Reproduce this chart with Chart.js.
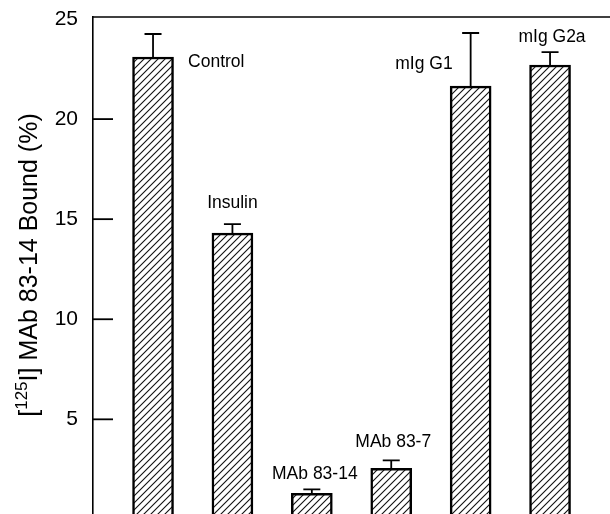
<!DOCTYPE html>
<html>
<head>
<meta charset="utf-8">
<script src="https://cdn.jsdelivr.net/npm/chart.js@4"></script>
<style>
  html, body { margin: 0; padding: 0; background: #fff; }
  #wrap { width: 610px; height: 514px; }
</style>
</head>
<body>
<div id="wrap"><canvas id="chartBound"></canvas></div>
<script>
// treatments, mean % bound and upper error (mean + SD)
const treatments = ["Control", "Insulin", "MAb 83-14", "MAb 83-7", "mIg G1", "mIg G2a"];
const boundPct = [23.1, 14.3, 1.3, 2.55, 21.65, 22.7];
const errTop = [24.25, 14.75, 1.5, 2.95, 24.3, 23.35];
const yTicks = [5, 10, 15, 20, 25];

const FONT = "'Liberation Sans', Arial, Helvetica, sans-serif";

// diagonal hatch fill for the bars
function hatchPattern(ctx) {
    const size = 7;
    const c = document.createElement("canvas");
    c.width = size;
    c.height = size;
    const p = c.getContext("2d");
    p.fillStyle = "#fff";
    p.fillRect(0, 0, size, size);
    p.strokeStyle = "#111";
    p.lineWidth = 1.1;
    p.beginPath();
    p.moveTo(-1, size + 1);
    p.lineTo(size + 1, -1);
    p.moveTo(-1, 1);
    p.lineTo(1, -1);
    p.moveTo(size - 1, size + 1);
    p.lineTo(size + 1, size - 1);
    p.stroke();
    return ctx.createPattern(c, "repeat");
}

// error bars, inward ticks, top border, bar labels and the axis title
const decorPlugin = {
    id: "decorPlugin",
    afterDatasetsDraw: (chart) => {
        const ctx = chart.ctx;
        const x = chart.scales.x;
        const y = chart.scales.y;
        const area = chart.chartArea;
        ctx.save();
        ctx.strokeStyle = "#000";

        // upper error bars
        ctx.lineWidth = 1.8;
        errTop.forEach((e, i) => {
            const px = x.getPixelForValue(i);
            const top = y.getPixelForValue(e);
            const base = y.getPixelForValue(boundPct[i]);
            ctx.beginPath();
            ctx.moveTo(px, base);
            ctx.lineTo(px, top);
            ctx.moveTo(px - 8.5, top);
            ctx.lineTo(px + 8.5, top);
            ctx.stroke();
        });

        // top frame line
        ctx.lineWidth = 1.6;
        ctx.beginPath();
        ctx.moveTo(area.left, area.top);
        ctx.lineTo(area.right, area.top);
        ctx.stroke();

        // inward tick marks
        ctx.lineWidth = 1.8;
        yTicks.forEach((v) => {
            if (v >= 25) return;
            const py = y.getPixelForValue(v);
            ctx.beginPath();
            ctx.moveTo(area.left, py);
            ctx.lineTo(area.left + 20, py);
            ctx.stroke();
        });

        // bar labels
        ctx.fillStyle = "#000";
        ctx.font = "17.5px " + FONT;
        ctx.textBaseline = "middle";
        const lbl = (i, dx, ty, align) => {
            ctx.textAlign = align;
            ctx.fillText(treatments[i], x.getPixelForValue(i) + dx, ty);
        };
        lbl(0, 35, y.getPixelForValue(boundPct[0]) + 5, "left");
        lbl(1, 0, y.getPixelForValue(errTop[1]) - 21, "center");
        lbl(2, 3, y.getPixelForValue(errTop[2]) - 15, "center");
        lbl(3, 2, y.getPixelForValue(errTop[3]) - 18, "center");
        lbl(4, -18, y.getPixelForValue(errTop[4]) + 31, "right");
        lbl(5, 2, y.getPixelForValue(errTop[5]) - 15, "center");

        // y axis title with superscript
        ctx.translate(29, 265);
        ctx.rotate(-Math.PI / 2);
        ctx.textAlign = "left";
        ctx.textBaseline = "alphabetic";
        const big = "25px " + FONT;
        const small = "17px " + FONT;
        const parts = [
            ["[", big, 0],
            ["125", small, -10],
            ["I] MAb 83-14 Bound (%)", big, 0],
        ];
        let w = 0;
        parts.forEach((p) => {
            ctx.font = p[1];
            w += ctx.measureText(p[0]).width;
        });
        let cx = -w / 2;
        parts.forEach((p) => {
            ctx.font = p[1];
            ctx.fillText(p[0], cx, 8 + p[2]);
            cx += ctx.measureText(p[0]).width;
        });
        ctx.restore();
    },
};

const ctxBound = document.getElementById("chartBound").getContext("2d");

const barChartBound = new Chart(ctxBound, {
    type: "bar",
    data: {
        datasets: [
            {
                data: boundPct.map((v, i) => ({ x: i, y: v })),
                backgroundColor: hatchPattern(ctxBound),
                borderColor: "#000",
                borderWidth: 2.5,
                borderSkipped: "start",
                barThickness: 41,
            },
        ],
    },
    options: {
        responsive: true,
        maintainAspectRatio: false,
        animation: false,
        layout: { padding: { top: 17, right: 0, bottom: 0, left: 0 } },
        plugins: {
            legend: { display: false },
            tooltip: { enabled: false },
        },
        scales: {
            x: {
                type: "linear",
                display: false,
                offset: false,
                min: -0.756,
                max: 5.755,
            },
            y: {
                min: 0.27,
                max: 25.1,
                afterFit: (scale) => {
                    scale.width = 93;
                    scale.paddingTop = 0;
                    scale.paddingBottom = 0;
                },
                afterBuildTicks: (scale) => {
                    scale.ticks = yTicks.map((v) => ({ value: v }));
                },
                grid: { display: false },
                border: { display: true, color: "#000", width: 1.6 },
                ticks: {
                    color: "#000",
                    padding: 7,
                    font: { family: FONT, size: 21 },
                },
            },
        },
    },
    plugins: [decorPlugin],
});
</script>
</body>
</html>
